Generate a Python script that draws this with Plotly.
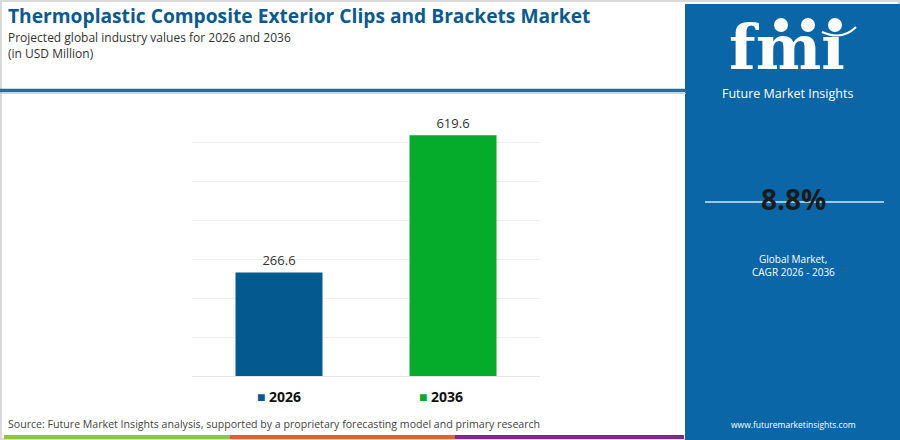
import plotly.graph_objects as go

# data
years = ['2026', '2036']
values = [266.6, 619.6]
bar_colors = ['#04598f', '#05ab2b']
cagr = '8.8%'

W, H = 900, 440


def px(x):
    return x / W


def py(y):
    return 1 - y / H


fig = go.Figure()
fig.add_trace(go.Bar(
    x=years, y=values,
    marker=dict(color=bar_colors, line=dict(width=0)),
    text=[f'{v:.1f}' for v in values],
    textposition='outside',
    textfont=dict(family='Open Sans', size=13, color='#333333'),
    cliponaxis=False,
    width=0.5,
    showlegend=False,
    hoverinfo='skip',
))

shapes = [
    # outer border
    dict(type='rect', xref='paper', yref='paper', x0=px(1), x1=px(899), y0=py(439), y1=py(1),
         line=dict(color='#d9d9d9', width=2), fillcolor='rgba(0,0,0,0)', layer='below'),
    # header separator
    dict(type='line', xref='paper', yref='paper', x0=0, x1=px(686), y0=py(90.5), y1=py(90.5),
         line=dict(color='#1f6fa6', width=3.5)),
    dict(type='line', xref='paper', yref='paper', x0=0, x1=px(686), y0=py(93.3), y1=py(93.3),
         line=dict(color='#a9d3ef', width=1)),
    # right panel
    dict(type='rect', xref='paper', yref='paper', x0=px(685), x1=1, y0=0, y1=py(4),
         fillcolor='#0b66a8', line=dict(width=0), layer='below'),
    # cagr line
    dict(type='line', xref='paper', yref='paper', x0=px(705), x1=px(884), y0=py(202), y1=py(202),
         line=dict(color='#d6e6f3', width=1.5)),
]

# bottom colour strip
strip = [(4, 230, '#8cc63f'), (230, 455, '#e2602e'), (455, 684, '#7c2b8b')]
for x0, x1, c in strip:
    shapes.append(dict(type='rect', xref='paper', yref='paper', x0=px(x0), x1=px(x1),
                       y0=py(439), y1=py(435), fillcolor=c, line=dict(width=0)))

# logo globes
for cx in [781, 808, 835]:
    shapes.append(dict(type='circle', xref='paper', yref='paper',
                       x0=px(cx - 7), x1=px(cx + 7), y0=py(32), y1=py(18),
                       fillcolor='white', line=dict(width=0)))
shapes.append(dict(type='path', xref='paper', yref='paper',
                   path=f'M {px(822)} {py(32)} Q {px(842)} {py(41)} {px(856)} {py(27)}',
                   line=dict(color='white', width=2)))


def note(text, x, y, size, color, anchor='left', family='Open Sans'):
    return dict(text=text, x=px(x), y=py(y), xref='paper', yref='paper',
                xanchor=anchor, yanchor='middle', showarrow=False, borderpad=0,
                font=dict(family=family, size=size, color=color))


annotations = [
    note('<b>Thermoplastic Composite Exterior Clips and Brackets Market</b>', 7, 15.5, 19.2, '#0b5a8f'),
    note('Projected global industry values for 2026 and 2036', 7, 37.5, 12, '#333333'),
    note('(in USD Million)', 7, 53.5, 12, '#333333'),
    note('Source: Future Market Insights analysis, supported by a proprietary forecasting model and primary research',
         7, 424, 10.6, '#444444'),
    # legend
    note(f'<span style="color:{bar_colors[0]}">■</span> <b>{years[0]}</b>', 256, 396, 14, '#111111'),
    note(f'<span style="color:{bar_colors[1]}">■</span> <b>{years[1]}</b>', 418, 396, 14, '#111111'),
    # right panel
    note('<b>fmı</b>', 787, 47, 62, 'white', 'center', 'DejaVu Serif'),
    note('Future Market Insights', 787, 93, 12.5, 'white', 'center'),
    note(f'<b>{cagr}</b>', 793, 199, 28, '#1a1a1a', 'center'),
    note('Global Market,', 793, 259, 10, 'white', 'center'),
    note('CAGR 2026 - 2036', 793, 272, 10, 'white', 'center'),
    note('www.futuremarketinsights.com', 793, 424, 8.5, 'white', 'center'),
]

fig.update_layout(
    width=W, height=H,
    margin=dict(l=0, r=0, t=0, b=0),
    paper_bgcolor='white', plot_bgcolor='white',
    xaxis=dict(domain=[px(192), px(540)], showticklabels=False, showgrid=False,
               zeroline=False, showline=False, fixedrange=True),
    yaxis=dict(domain=[py(376), py(104)], range=[0, 700], dtick=100,
               showticklabels=False, showgrid=True, gridcolor='#efefef', gridwidth=1,
               zeroline=True, zerolinecolor='#e6e6e6', zerolinewidth=1, showline=False,
               fixedrange=True),
    shapes=shapes,
    annotations=annotations,
    bargap=0.5,
)

fig.write_html('out.html', config={'displayModeBar': False},
               post_script="document.body.style.margin='0';")
